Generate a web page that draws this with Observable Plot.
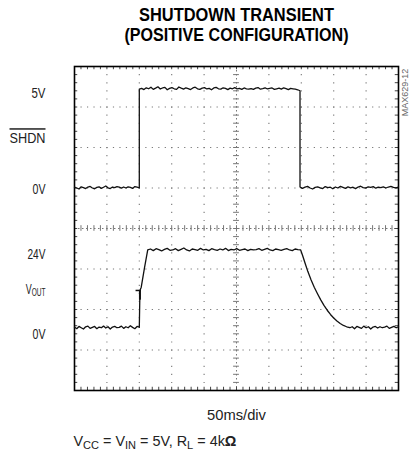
<!DOCTYPE html>
<html><head><meta charset="utf-8">
<script src="https://cdn.jsdelivr.net/npm/d3@7"></script>
<script src="https://cdn.jsdelivr.net/npm/@observablehq/plot@0.6"></script>
<style>body{margin:0;background:#fff;}</style>
</head><body><div id="chart"></div>
<script>
const FONT = '"Liberation Sans",Arial,Helvetica,sans-serif';

// ---- Text ----
const titleLines = ["SHUTDOWN TRANSIENT", "(POSITIVE CONFIGURATION)"];
const timebaseLabel = "50ms/div";
const figureId = "MAX629-12";

// ---- Scope settings (time in ms, 50 ms/div, 10 div; 8 vertical div) ----
const timeDomain = [0, 500];
const divDomain = [0, 8];
const shdnZeroDiv = 5.0, shdnVoltsPerDiv = 5 / 2.45;
const voutZeroDiv = 1.55, voutVoltsPerDiv = 12.5;

// ---- SHDN trace (volts) ----
const shdnLowBefore = [0.04,0.0,-0.05,0.06,0.02,-0.03,0.05,0.08,0.0,-0.04,0.03,0.06,-0.02,0.04,0.1,0.01,-0.03,0.05,0.02,0.07,0.04,-0.01,0.05,0.0,0.06,0.03,-0.02,0.07,0.04,0.01];
const shdnHigh = [4.98,5.02,4.96,5.05,5.0,5.08,4.97,5.03,5.1,4.99,5.04,5.07,4.95,5.02,5.06,5.0,4.97,5.09,5.03,4.98,5.05,5.01,4.96,5.04,5.08,5.0,4.97,5.03,5.06,4.99,5.02,4.95,5.04,5.07,5.0,4.98,5.05,5.02,4.96,5.03,5.0,5.06,4.99,5.02,4.97,5.04,5.0,4.98,5.01,4.97,5.03,5.06,4.98,5.01,5.05,4.99,5.02,5.04,4.97,5.0,5.03,4.98,5.05,5.01,4.96,5.02,5.0,4.98,4.95,4.9];
const shdnLowAfter = [0.05,-0.02,0.04,0.08,0.0,-0.05,0.03,0.06,0.01,-0.03,0.07,0.02,0.04,-0.04,0.05,0.0,0.08,0.03,-0.02,0.06,0.01,0.04,-0.03,0.05,0.09,0.02,0.0,0.06,0.03,0.07,-0.01,0.04,0.02,0.06,0.0,0.05,0.08,0.03,0.01,0.05];
const shdnRiseMs = 100, shdnFallMs = 348;

// ---- VOUT trace (volts) ----
const voutLowBefore = [0.2,-0.3,0.4,0.0,-0.4,0.3,0.5,-0.2,0.1,0.4,-0.3,0.2,0.0,0.5,-0.1,0.3,-0.4,0.2,0.4,0.0,0.1,0.5,-0.2,0.3,0.0,0.6,0.1,-0.3,0.4,0.2];
const voutRampTime = [100, 101, 103, 108, 113];
const voutRampVolt = [0.1, 11.5, 12.5, 18.5, 24.0];
const voutHigh = [24.0,24.3,23.8,24.4,24.1,23.7,24.2,24.5,23.9,24.0,24.4,23.8,24.2,24.6,24.0,23.7,24.3,24.1,23.9,24.5,24.0,24.2,23.8,24.4,24.1,23.9,24.3,24.0,24.5,23.8,24.2,24.0,24.4,23.9,24.1,24.3,23.8,24.2,24.0,24.1,24.4,23.9,24.2,24.5,24.0,23.8,24.3,24.1,23.9,24.2,24.4,24.0,23.8,24.3,24.1,24.0];
const voutFallTime = [349,352,356,360,365,370,375,380,385,390,395,400,405,410,415,420,425];
const voutFallVolt = [24.0,22.3,19.8,17.4,14.8,12.5,10.5,8.6,6.9,5.4,4.1,3.0,2.1,1.3,0.7,0.3,0.0];
const voutLowAfter = [0.0,0.3,-0.3,0.4,0.1,-0.2,0.5,0.0,0.3,-0.4,0.2,0.4,-0.1,0.3,0.0,0.2,0.5,-0.2,0.1,0.4,0.0,0.3];
const triggerMarker = {t: 101, v: 11.5};

// ---- Channel labels ----
const labelText = ["5V", "SHDN", "0V", "24V", "VOUT", "0V"];
const labelChannel = ["shdn", "shdn", "shdn", "vout", "vout", "vout"];
const labelVolt = [5, 2.5, 0, 24, 12, 0];
// styling: per-label vertical nudge (px, downward) and rendered widths (px)
const labelNudge = [4.5, 0, 0.7, 4.5, 0, 6.5];
const labelWidth = [14, 36, 13, 18, 20, 13];
const PX_PER_DIV = 324 / 8;

function uniform(t0, t1, vals) {
  const n = vals.length;
  return vals.map((v, i) => ({t: t0 + (t1 - t0) * i / (n - 1), v}));
}
function paired(ts, vs) { return ts.map((t, i) => ({t, v: vs[i]})); }

const shdnData = [
  ...uniform(0, shdnRiseMs, shdnLowBefore),
  ...uniform(shdnRiseMs, shdnFallMs, shdnHigh),
  ...uniform(shdnFallMs, 500, shdnLowAfter)
];
const voutData = [
  ...uniform(0, 100, voutLowBefore),
  ...paired(voutRampTime, voutRampVolt),
  ...uniform(113, 349, voutHigh),
  ...paired(voutFallTime, voutFallVolt),
  ...uniform(425, 500, voutLowAfter)
];
const shdnY = v => shdnZeroDiv + v / shdnVoltsPerDiv;
const voutY = v => voutZeroDiv + v / voutVoltsPerDiv;
const labels = labelText.map((text, i) => ({
  text, i,
  y: (labelChannel[i] === "shdn" ? shdnY(labelVolt[i]) : voutY(labelVolt[i])) - labelNudge[i] / PX_PER_DIV
}));

// grid geometry
const vGrid = d3.range(50, 500, 50).filter(x => x !== 250);
const hGrid = d3.range(1, 8).filter(y => y !== 4);
const minorX = d3.range(10, 500, 10);
const minorY = d3.range(0.2, 8, 0.2);
const gridColor = "#777";

const plot = Plot.plot({
  width: 412, height: 454,
  marginLeft: 74, marginRight: 14, marginTop: 66, marginBottom: 64,
  x: {domain: timeDomain, axis: null},
  y: {domain: divDomain, axis: null},
  style: {fontFamily: FONT, background: "#fff", color: "#000"},
  marks: [
    // dotted grid
    Plot.ruleX(vGrid, {x: d => d, stroke: gridColor, strokeWidth: 1.1, strokeDasharray: "1.2,6.9"}),
    Plot.ruleY(hGrid, {y: d => d, stroke: gridColor, strokeWidth: 1.1, strokeDasharray: "1.2,5.28"}),
    // center axes
    Plot.ruleX([250], {x: d => d, stroke: gridColor, strokeWidth: 1, strokeDasharray: "1.5,2.5"}),
    Plot.ruleY([4], {y: d => d, stroke: gridColor, strokeWidth: 1, strokeDasharray: "1.5,2.5"}),
    Plot.ruleX(minorX, {x: d => d, y1: 4 - 0.07, y2: 4 + 0.07, stroke: gridColor}),
    Plot.ruleY(minorY, {y: d => d, x1: 250 - 4.5, x2: 250 + 4.5, stroke: gridColor}),
    // frame edge ticks
    Plot.ruleX(minorX, {x: d => d, y1: 0, y2: 0.08, stroke: "#444"}),
    Plot.ruleX(minorX, {x: d => d, y1: 8 - 0.08, y2: 8, stroke: "#444"}),
    Plot.ruleY(minorY, {y: d => d, x1: 0, x2: 5, stroke: "#444"}),
    Plot.ruleY(minorY, {y: d => d, x1: 495, x2: 500, stroke: "#444"}),
    Plot.frame({stroke: "#000", strokeWidth: 1.6}),
    // traces
    Plot.line(shdnData, {x: "t", y: d => shdnY(d.v), stroke: "#111", strokeWidth: 1.3}),
    Plot.line(voutData, {x: "t", y: d => voutY(d.v), stroke: "#111", strokeWidth: 1.3}),
    Plot.ruleY([triggerMarker], {y: d => voutY(d.v), x1: d => d.t - 6, x2: d => d.t + 2, stroke: "#111", strokeWidth: 1.5}),
    Plot.ruleX([triggerMarker], {x: d => d.t, y1: d => voutY(d.v), y2: d => voutY(d.v - 3), stroke: "#111", strokeWidth: 2}),
    // channel labels
    Plot.text(labels, {x: () => 0, y: "y", text: "text", dx: -29, textAnchor: "end", fontSize: 15, fill: "#222", className: "chlabel"}),
    // title
    Plot.text([titleLines[0]], {x: () => 250, y: () => 8, text: d => d, dy: -46, lineAnchor: "bottom", fontSize: 18, fontWeight: "bold", fill: "#000", className: "t1"}),
    Plot.text([titleLines[1]], {x: () => 250, y: () => 8, text: d => d, dy: -26, lineAnchor: "bottom", fontSize: 18, fontWeight: "bold", fill: "#000", className: "t2"}),
    // id
    Plot.text([figureId], {x: () => 500, y: () => 7.36, text: d => d, dx: 7, rotate: -90, fontSize: 9, fill: "#666", className: "fid"}),
    // bottom texts
    Plot.text([timebaseLabel], {x: () => 250, y: () => 0, text: d => d, dy: 29, lineAnchor: "bottom", fontSize: 15, fill: "#222", className: "tb"}),
    Plot.text(["CAPTION"], {x: () => 0, y: () => 0, text: d => d, dx: -1, dy: 55, lineAnchor: "bottom", textAnchor: "start", fontSize: 15, fill: "#222", className: "cap"})
  ]
});
document.getElementById("chart").append(plot);

// rich-text adjustments (overline, subscripts, condensed widths)
function rich(el, parts, subSize, shift) {
  el.textContent = "";
  let shifted = false;
  for (const [s, sub, bold] of parts) {
    const ts = document.createElementNS("http://www.w3.org/2000/svg", "tspan");
    ts.textContent = s;
    if (sub && !shifted) { ts.setAttribute("dy", shift); shifted = true; }
    else if (!sub && shifted) { ts.setAttribute("dy", -shift); shifted = false; }
    if (sub) ts.setAttribute("font-size", subSize);
    if (bold) ts.setAttribute("font-weight", "bold");
    el.appendChild(ts);
  }
}
function condense(el, w) {
  el.setAttribute("textLength", w);
  el.setAttribute("lengthAdjust", "spacingAndGlyphs");
}
// horizontal squeeze via transform (keeps the anchor point fixed)
function squeeze(el, w) {
  const bw = el.getBBox().width;
  if (!bw) return;
  const sx = w / bw;
  const x = +el.getAttribute("x") || 0, y = +el.getAttribute("y") || 0;
  const prev = el.getAttribute("transform") || "";
  el.setAttribute("transform", `${prev} translate(${x},${y}) scale(${sx.toFixed(4)},1) translate(${-x},${-y})`);
}
const svg = d3.select(plot);
svg.selectAll("g.chlabel text").each(function (d, k) {
  const t = labelText[k];
  if (t === "SHDN") this.style.textDecoration = "overline";
  if (t === "VOUT") { rich(this, [["V"], ["OUT", true]], 11, 2.5); squeeze(this, labelWidth[k]); }
  else condense(this, labelWidth[k]);
});
svg.selectAll("g.t1 text").each(function () { condense(this, 195); });
svg.selectAll("g.t2 text").each(function () { condense(this, 224); });
svg.selectAll("g.tb text").each(function () { condense(this, 59); });
svg.selectAll("g.cap text").each(function () {
  rich(this, [["V"], ["CC", true], [" = V"], ["IN", true], [" = 5V, R"], ["L", true], [" = 4k"], ["\u03A9", false, true]], 11.5, 3);
  squeeze(this, 163);
});
</script>
</body></html>
